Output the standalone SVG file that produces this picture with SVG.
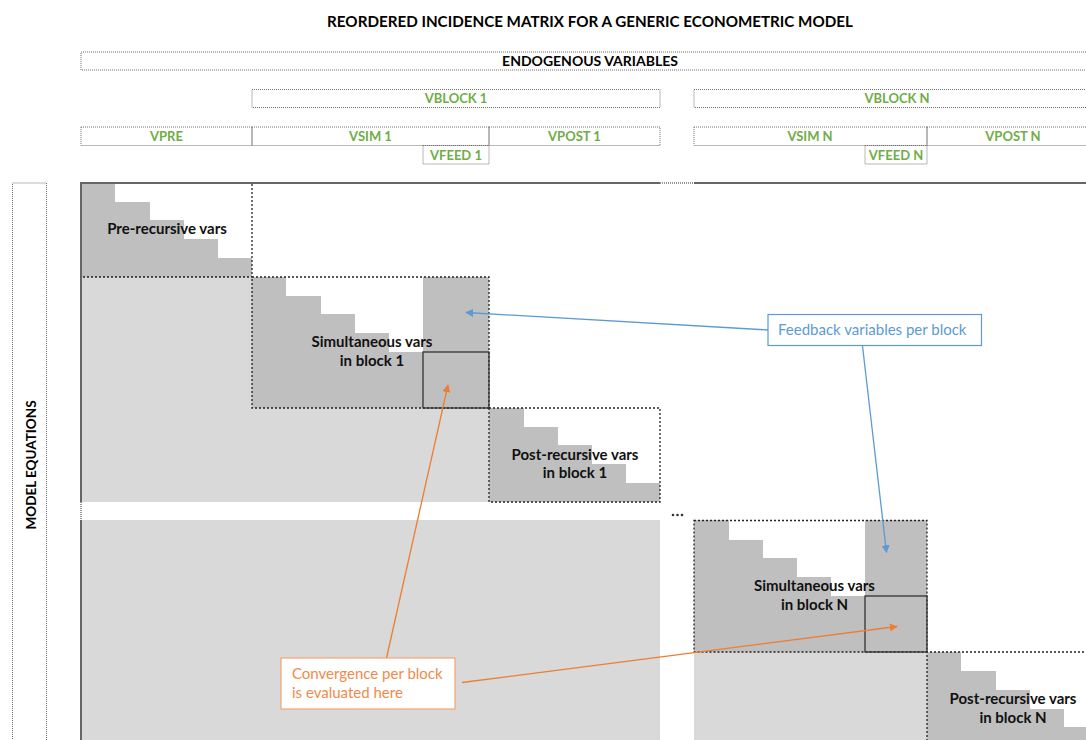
<svg xmlns="http://www.w3.org/2000/svg" width="1086" height="740" viewBox="0 0 1086 740">
<defs>
<style>
.t{font-family:Lato,"Open Sans","Liberation Sans",sans-serif;}
.title{font-size:15.2px;font-weight:bold;fill:#000;text-anchor:middle;}
.hb{font-size:13px;font-weight:bold;text-anchor:middle;}
.me{font-size:13.5px;}
.en{font-size:14px;}
.blk{fill:#000;}
.grn{fill:#70AD47;}
.hbox{fill:none;stroke:#707070;stroke-width:1;stroke-dasharray:1 1;}
.lbl{font-size:15px;font-weight:bold;fill:#111;text-anchor:middle;}
.dk{fill:#BFBFBF;}
.lt{fill:#D9D9D9;}
.dot{fill:none;stroke:#222;stroke-width:1.3;stroke-dasharray:2 2;}
.conv{fill:none;stroke:#333;stroke-width:1.3;}
.frame{stroke:#666;stroke-width:2;fill:none;}
.blue{stroke:#5B9BD5;stroke-width:1.3;fill:none;}
.orng{stroke:#ED7D31;stroke-width:1.3;fill:none;}
.note{font-size:15px;}
</style>
<marker id="ab" viewBox="0 0 10 10" refX="9" refY="5" markerWidth="8" markerHeight="8" markerUnits="userSpaceOnUse" orient="auto"><path d="M0,0 L10,5 L0,10 z" fill="#5B9BD5"/></marker>
<marker id="ao" viewBox="0 0 10 10" refX="9" refY="5" markerWidth="8" markerHeight="8" markerUnits="userSpaceOnUse" orient="auto"><path d="M0,0 L10,5 L0,10 z" fill="#ED7D31"/></marker>
</defs>
<rect width="1086" height="740" fill="#fff"/>
<text class="t title" x="590" y="27">REORDERED INCIDENCE MATRIX FOR A GENERIC ECONOMETRIC MODEL</text>

<g id="headers">
<g id="endogenous"><rect class="hbox" x="81" y="52" width="1020" height="18"/><text class="t hb en blk" x="590" y="65.5">ENDOGENOUS VARIABLES</text></g>
<g id="vblock1"><rect class="hbox" x="252" y="89.5" width="408" height="18"/><text class="t hb grn" x="456" y="103">VBLOCK 1</text></g>
<g id="vblockN"><rect class="hbox" x="694" y="89.5" width="400" height="18"/><text class="t hb grn" x="897" y="103">VBLOCK N</text></g>
<g id="vpre"><rect class="hbox" x="81" y="127" width="171" height="18.5"/><text class="t hb grn" x="166.5" y="140.5">VPRE</text></g>
<g id="vsim1"><rect class="hbox" x="252" y="127" width="237" height="18.5"/><text class="t hb grn" x="370.5" y="140.5">VSIM 1</text></g>
<g id="vpost1"><rect class="hbox" x="489" y="127" width="171" height="18.5"/><text class="t hb grn" x="574.5" y="140.5">VPOST 1</text></g>
<g id="vfeed1"><rect class="hbox" x="423" y="145.5" width="66" height="18.5"/><text class="t hb grn" x="456" y="159.5">VFEED 1</text></g>
<g id="vsimN"><rect class="hbox" x="694" y="127" width="233" height="18.5"/><text class="t hb grn" x="810" y="140.5">VSIM N</text></g>
<g id="vpostN"><rect class="hbox" x="927" y="127" width="170" height="18.5"/><text class="t hb grn" x="1013" y="140.5">VPOST N</text></g>
<g id="vfeedN"><rect class="hbox" x="865" y="145.5" width="62" height="18.5"/><text class="t hb grn" x="896" y="159.5">VFEED N</text></g>
<g id="model-equations"><rect class="hbox" x="12.5" y="183" width="34" height="570"/><text class="t hb me blk" transform="translate(35.5,465) rotate(-90)" x="0" y="0">MODEL EQUATIONS</text></g>
</g>

<g id="matrix">
<path class="lt" d="M81,277 H252 V408 H489 V502 H81 Z"/>
<rect class="lt" x="81" y="520" width="579" height="220"/>
<rect class="lt" x="694" y="652" width="233" height="88"/>

<g id="pre-block">
<polygon class="dk" points="81,183 115,183 115,202 150,202 150,220 184,220 184,239 218,239 218,258 252,258 252,277 81,277"/>
<rect class="dot" x="81" y="183" width="171" height="94"/>
<text class="t lbl" x="167" y="234">Pre-recursive vars</text>
</g>

<g id="sim-block-1">
<polygon class="dk" points="252,277 286,277 286,296 321,296 321,314 355,314 355,333 389,333 389,352 423,352 423,277 489,277 489,408 252,408"/>
<rect class="dot" x="252" y="277" width="237" height="131"/>
<text class="t lbl" x="372" y="347">Simultaneous vars</text>
<text class="t lbl" x="372" y="365.5">in block 1</text>
</g>
<g id="conv-1"><rect class="conv" x="423" y="352" width="66" height="56"/></g>

<g id="post-block-1">
<polygon class="dk" points="489,408 524,408 524,427 558,427 558,445 592,445 592,464 626,464 626,483 660,483 660,502 489,502"/>
<rect class="dot" x="489" y="408" width="171" height="94"/>
<text class="t lbl" x="575" y="459.5">Post-recursive vars</text>
<text class="t lbl" x="575" y="478">in block 1</text>
</g>

<g id="sim-block-N">
<polygon class="dk" points="694,520 729,520 729,540 763,540 763,558 797,558 797,577 831,577 831,596 865,596 865,520 927,520 927,652 694,652"/>
<rect class="dot" x="694" y="520.5" width="233" height="131.5"/>
<text class="t lbl" x="814.5" y="591">Simultaneous vars</text>
<text class="t lbl" x="814.5" y="609.5">in block N</text>
</g>
<g id="conv-N"><rect class="conv" x="865" y="596" width="62" height="56"/></g>

<g id="post-block-N">
<polygon class="dk" points="927,652 961,652 961,671 996,671 996,690 1030,690 1030,709 1064,709 1064,727 1090,727 1090,745 927,745"/>
<path class="dot" d="M927,745 V652 H1090"/>
<text class="t lbl" x="1013" y="703.5">Post-recursive vars</text>
<text class="t lbl" x="1013" y="722.5">in block N</text>
</g>

<g id="frame">
<path class="frame" d="M81,741 V520 M81,502 V183 H660 M694,183 H1090"/>
<path d="M81,502 V520 M660,183 H694" stroke="#777" stroke-width="1.5" stroke-dasharray="1 1" fill="none"/>
</g>
<g id="ellipsis"><circle cx="673" cy="515" r="1.3" fill="#333"/><circle cx="677.5" cy="515" r="1.3" fill="#333"/><circle cx="682" cy="515" r="1.3" fill="#333"/></g>
</g>

<g id="connectors">
<line class="blue" x1="768" y1="330" x2="466" y2="312.5" marker-end="url(#ab)"/>
<line class="blue" x1="862.5" y1="346" x2="886.5" y2="552.5" marker-end="url(#ab)"/>
<line class="orng" x1="386.5" y1="658" x2="448" y2="385" marker-end="url(#ao)"/>
<line class="orng" x1="462" y1="682.5" x2="897" y2="626.5" marker-end="url(#ao)"/>
</g>

<g id="feedback-note">
<rect x="768" y="314.5" width="213.5" height="31" fill="#fff" stroke="#5B9BD5" stroke-width="1.2"/>
<text class="t note" x="778" y="335" fill="#5B9BD5">Feedback variables per block</text>
</g>
<g id="convergence-note">
<rect x="281" y="658" width="174" height="51" fill="#fff" stroke="#F4A36F" stroke-width="1.2"/>
<text class="t note" x="292" y="678.5" fill="#F08A4B">Convergence per block</text>
<text class="t note" x="292" y="698" fill="#F08A4B">is evaluated here</text>
</g>
</svg>
